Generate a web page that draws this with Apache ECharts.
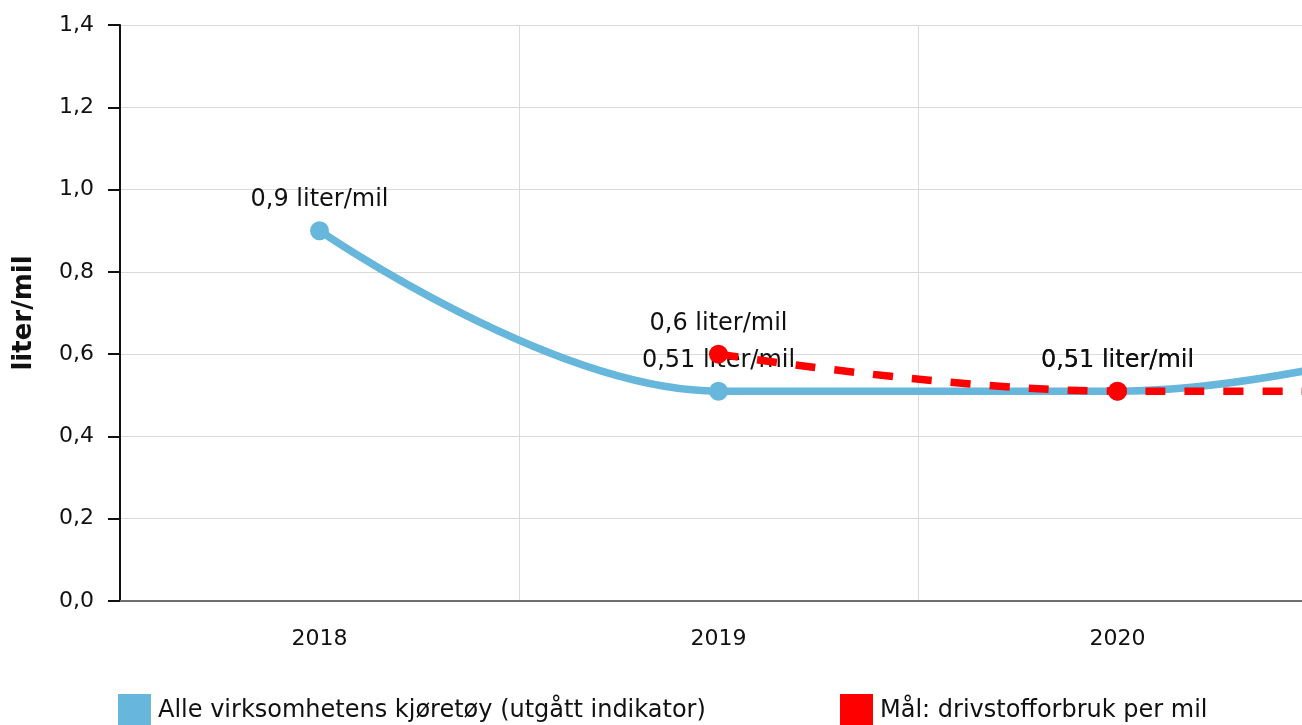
<!DOCTYPE html>
<html>
<head>
<meta charset="utf-8">
<script src="https://cdn.jsdelivr.net/npm/echarts@6/dist/echarts.min.js"></script>
<style>
  html, body { margin: 0; padding: 0; background: #fff; overflow: hidden; }
  /* the plot runs on past the right edge of the window, as in the original */
  #chart { width: 1716px; height: 725px; }
</style>
</head>
<body>
<div id="chart"></div>
<script>
// data (2021 point only shows as the curve leaving the frame)
var years = ['2018', '2019', '2020', '2021'];
var fleetValues = [0.9, 0.51, 0.51, 0.68];
var targetValues = [null, 0.6, 0.51, 0.51];
var fleetName = 'Alle virksomhetens kjøretøy (utgått indikator)';
var targetName = 'Mål: drivstofforbruk per mil';

var FONT = 'DejaVu Sans';
var BLUE = '#67b6dc';
var RED = '#ff0000';

function comma(v, digits) {
    var s = digits == null ? String(v) : v.toFixed(digits);
    return s.replace('.', ',');
}

var myChart = echarts.init(document.getElementById('chart'));

var labelCfg = {
    show: true,
    position: 'top',
    distance: 9,
    color: '#111',
    fontFamily: FONT,
    fontSize: 24,
    formatter: function (p) {
        return comma(p.value) + ' liter/mil';
    }
};

var legendText = { fontFamily: FONT, fontSize: 24, color: '#111', padding: [0, 0, 0, 2] };

var option = {
    backgroundColor: '#fff',
    animation: false,
    textStyle: { fontFamily: FONT },
    grid: {
        left: 120,
        right: 0,
        top: 25,
        bottom: 124
    },
    legend: [
        {
            data: [fleetName],
            left: 118,
            top: 694,
            padding: 0,
            icon: 'rect',
            itemWidth: 33,
            itemHeight: 33,
            textStyle: legendText
        },
        {
            data: [targetName],
            left: 840,
            top: 694,
            padding: 0,
            icon: 'rect',
            itemWidth: 33,
            itemHeight: 33,
            textStyle: legendText
        }
    ],
    xAxis: {
        type: 'category',
        data: years,
        boundaryGap: true,
        axisLine: { lineStyle: { color: '#6e6e6e', width: 2 } },
        axisTick: { alignWithLabel: true, length: 10, lineStyle: { color: '#a8a8a8', width: 2 } },
        axisLabel: { color: '#111', fontFamily: FONT, fontSize: 22, margin: 27 },
        splitLine: { show: true, lineStyle: { color: '#d9d9d9', width: 1 } }
    },
    yAxis: {
        type: 'value',
        min: 0,
        max: 1.4,
        interval: 0.2,
        name: 'liter/mil',
        nameLocation: 'middle',
        nameGap: 83,
        nameTextStyle: { color: '#111', fontFamily: FONT, fontSize: 26, fontWeight: 'bold' },
        axisLine: { show: true, lineStyle: { color: '#111', width: 2 } },
        axisTick: { show: true, length: 12, lineStyle: { color: '#111', width: 2 } },
        axisLabel: {
            color: '#111',
            fontFamily: FONT,
            fontSize: 22,
            margin: 26,
            formatter: function (v) { return comma(v, 1); }
        },
        splitLine: { lineStyle: { color: '#d9d9d9', width: 1 } }
    },
    series: [
        {
            name: fleetName,
            type: 'line',
            data: fleetValues,
            smooth: 0.4,
            symbol: 'circle',
            symbolSize: 19,
            itemStyle: { color: BLUE },
            lineStyle: { color: BLUE, width: 7.5 },
            label: labelCfg,
            z: 2
        },
        {
            name: targetName,
            type: 'line',
            data: targetValues,
            smooth: 0.4,
            symbol: 'circle',
            symbolSize: 19,
            itemStyle: { color: RED },
            lineStyle: { color: RED, width: 7.5, type: [20, 19] },
            label: labelCfg,
            z: 3
        }
    ]
};

myChart.setOption(option);
</script>
</body>
</html>
